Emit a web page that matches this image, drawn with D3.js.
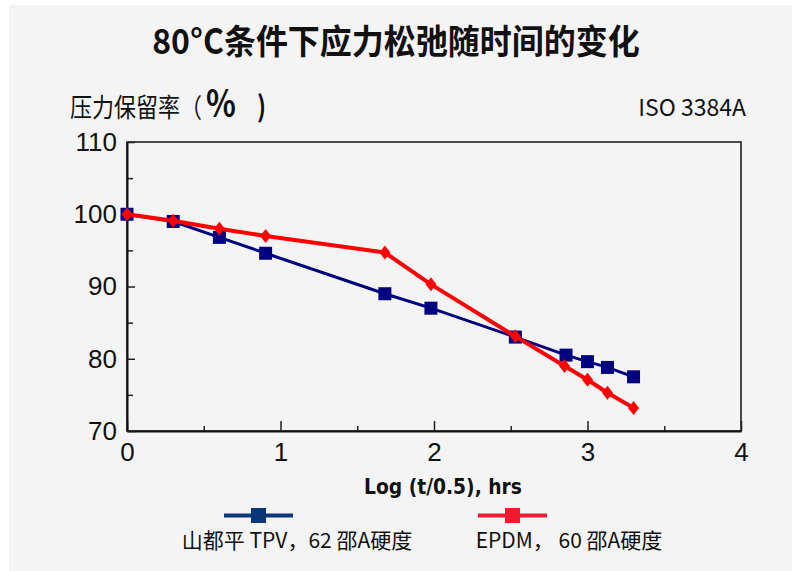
<!DOCTYPE html>
<html>
<head>
<meta charset="utf-8">
<script src="https://cdn.jsdelivr.net/npm/d3@7"></script>
<style>
  body { margin: 0; background: #fff; }
  .tick text { font-family: "Liberation Sans", Arial, sans-serif; font-size: 26px; fill: #111; }
  .cjk { font-family: "Noto Sans CJK SC", "Noto Sans", sans-serif; }
</style>
</head>
<body>
<div id="chart"></div>
<script>
// stress relaxation data
let tpvX = [0, 0.301, 0.602, 0.903, 1.68, 1.98, 2.53, 2.86, 3.0, 3.13, 3.30];
let tpvY = [100, 99, 96.8, 94.6, 89, 87, 83, 80.5, 79.6, 78.8, 77.5];
let epdmX = [0, 0.301, 0.602, 0.903, 1.68, 1.98, 2.53, 2.85, 3.0, 3.13, 3.30];
let epdmY = [100, 99.1, 98, 97, 94.7, 90.3, 83.1, 79, 77.1, 75.3, 73.2];
let xTicks = [0, 1, 2, 3, 4];
let yTicks = [70, 80, 90, 100, 110];
let legendNames = ['山都平 TPV，62 邵A硬度', 'EPDM，  60 邵A硬度'];

let width = 792, height = 571;
let margin = { top: 142, left: 127, right: 51, bottom: 140 };

let svg = d3.select('#chart')
  .append('svg')
  .attr('width', width)
  .attr('height', height);

// grey panel
svg.append('rect')
  .attr('x', 9).attr('y', 5)
  .attr('width', width - 9).attr('height', height - 5)
  .attr('fill', '#f4f4f4');

let xScale = d3.scaleLinear()
  .domain([0, 4])
  .range([margin.left, width - margin.right]);

let yScale = d3.scaleLinear()
  .domain([70, 110])
  .range([height - margin.bottom, margin.top]);

// minor ticks first
svg.append('g')
  .attr('transform', `translate(0, ${yScale(70)})`)
  .call(d3.axisBottom(xScale).tickValues([0.5, 1.5, 2.5, 3.5]).tickSize(-5).tickSizeOuter(0).tickFormat(''))
  .call(g => g.select('.domain').remove())
  .selectAll('line').attr('stroke', '#222').attr('stroke-width', 1.5);

svg.append('g')
  .attr('transform', `translate(${xScale(0)}, 0)`)
  .call(d3.axisLeft(yScale).tickValues([75, 85, 95, 105]).tickSize(-6).tickSizeOuter(0).tickFormat(''))
  .call(g => g.select('.domain').remove())
  .selectAll('line').attr('stroke', '#222').attr('stroke-width', 1.5);

// frame on top and right
svg.append('rect')
  .attr('x', xScale(0)).attr('y', yScale(110))
  .attr('width', xScale(4) - xScale(0))
  .attr('height', yScale(70) - yScale(110))
  .attr('fill', 'none')
  .attr('stroke', '#111')
  .attr('stroke-width', 1.5);

// x axis
let xAxis = svg.append('g')
  .attr('transform', `translate(0, ${yScale(70)})`)
  .call(d3.axisBottom(xScale).tickValues(xTicks).tickSize(-10).tickSizeOuter(0).tickPadding(9).tickFormat(d3.format('d')));
xAxis.select('.domain').attr('stroke', '#111').attr('stroke-width', 2);
xAxis.selectAll('line').attr('stroke', '#222').attr('stroke-width', 1.5);
xAxis.selectAll('text').attr('dy', '0.8em');

// y axis
let yAxis = svg.append('g')
  .attr('transform', `translate(${xScale(0)}, 0)`)
  .call(d3.axisLeft(yScale).tickValues(yTicks).tickSize(-8).tickSizeOuter(0).tickPadding(10));
yAxis.select('.domain').attr('stroke', '#111').attr('stroke-width', 2);
yAxis.selectAll('line').attr('stroke', '#222').attr('stroke-width', 1.5);

let line = d3.line()
  .x(d => xScale(d[0]))
  .y(d => yScale(d[1]));

let tpv = d3.zip(tpvX, tpvY);
let epdm = d3.zip(epdmX, epdmY);

// TPV series
svg.append('path')
  .datum(tpv)
  .attr('d', line)
  .attr('fill', 'none')
  .attr('stroke', '#000080')
  .attr('stroke-width', 3);

svg.selectAll('rect.tpv')
  .data(tpv)
  .enter()
  .append('rect')
    .attr('class', 'tpv')
    .attr('x', d => xScale(d[0]) - 6.5)
    .attr('y', d => yScale(d[1]) - 6.5)
    .attr('width', 13)
    .attr('height', 13)
    .attr('fill', '#000080');

// EPDM series
svg.append('path')
  .datum(epdm)
  .attr('d', line)
  .attr('fill', 'none')
  .attr('stroke', '#ff0000')
  .attr('stroke-width', 4)
  .attr('stroke-linejoin', 'round');

svg.selectAll('path.epdm')
  .data(epdm)
  .enter()
  .append('path')
    .attr('class', 'epdm')
    .attr('d', d => {
      let cx = xScale(d[0]), cy = yScale(d[1]);
      return `M${cx},${cy - 7}L${cx + 5.5},${cy}L${cx},${cy + 7}L${cx - 5.5},${cy}Z`;
    })
    .attr('fill', '#ff0000');

// title
svg.append('text')
  .attr('class', 'cjk')
  .attr('transform', 'translate(396, 54) scale(1, 1.08)')
  .attr('text-anchor', 'middle')
  .style('font-size', '32px')
  .style('font-weight', 'bold')
  .attr('fill', '#111')
  .text('80°C条件下应力松弛随时间的变化');

// y axis label
let yLabel = svg.append('text')
  .attr('class', 'cjk')
  .attr('transform', 'translate(70, 117) scale(1, 1.2)')
  .style('font-size', '22px')
  .attr('fill', '#111');
yLabel.append('tspan').text('压力保留率（');
yLabel.append('tspan').attr('x', 136).style('font-size', '31px').style('font-weight', 'bold').text('%');
yLabel.append('tspan').attr('x', 187).style('font-size', '24px').style('font-weight', 'bold').text(')');

svg.append('text')
  .attr('class', 'cjk')
  .attr('x', 746)
  .attr('y', 116)
  .attr('text-anchor', 'end')
  .style('font-size', '23px')
  .attr('fill', '#111')
  .text('ISO 3384A');

// x axis label
svg.append('text')
  .attr('transform', 'translate(443, 494) scale(0.85, 1)')
  .attr('text-anchor', 'middle')
  .style('font-family', '"DejaVu Sans", sans-serif')
  .style('font-weight', 'bold')
  .style('font-size', '22px')
  .attr('fill', '#111')
  .text('Log (t/0.5), hrs');

// legend
let legendColors = ['#0a367a', '#ee1c2e'];
let legendX = [258.5, 512.5];
let legendTextX = [297, 569];

legendNames.forEach((name, i) => {
  svg.append('line')
    .attr('x1', legendX[i] - 34.5).attr('x2', legendX[i] + 34.5)
    .attr('y1', 515.5).attr('y2', 515.5)
    .attr('stroke', legendColors[i])
    .attr('stroke-width', 4);
  svg.append('rect')
    .attr('x', legendX[i] - 7.5).attr('y', 508)
    .attr('width', 15).attr('height', 15)
    .attr('fill', legendColors[i]);
  svg.append('text')
    .attr('class', 'cjk')
    .attr('x', legendTextX[i])
    .attr('y', 548)
    .attr('text-anchor', 'middle')
    .style('font-size', '21px')
    .attr('fill', '#111')
    .text(name);
});
</script>
</body>
</html>
